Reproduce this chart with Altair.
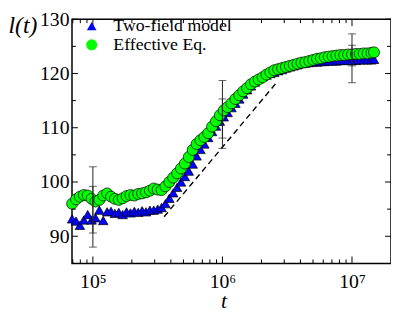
import altair as alt
import pandas as pd

# ---- data ----
log_t = [4.84, 4.87, 4.90, 4.93, 4.96, 4.99, 5.02, 5.05, 5.08, 5.11,
         5.14, 5.17, 5.20, 5.23, 5.26, 5.29, 5.32, 5.35, 5.38, 5.41,
         5.44, 5.47, 5.50, 5.53, 5.56, 5.59, 5.62, 5.65, 5.68, 5.71,
         5.74, 5.77, 5.80, 5.83, 5.86, 5.89, 5.92, 5.95, 5.98, 6.01,
         6.04, 6.07, 6.10, 6.13, 6.16, 6.19, 6.22, 6.25, 6.28, 6.31,
         6.34, 6.37, 6.40, 6.43, 6.46, 6.49, 6.52, 6.55, 6.58, 6.61,
         6.64, 6.67, 6.70, 6.73, 6.76, 6.79, 6.82, 6.85, 6.88, 6.91,
         6.94, 6.97, 7.00, 7.03, 7.06, 7.09, 7.12, 7.15, 7.17]

two_field = [93.2, 92.8, 92.0, 93.0, 94.0, 93.0, 93.4, 94.8, 92.9, 94.5,
             94.6, 94.2, 94.4, 94.0, 94.5, 94.3, 94.6, 94.4, 94.7, 94.5,
             94.8, 94.8, 95.0, 95.3, 96.0, 97.0, 98.0, 99.0, 100.0, 101.0,
             102.0, 103.3, 104.8, 106.0, 107.0, 108.2, 109.3, 110.3, 111.2, 112.0,
             112.8, 113.7, 114.5, 115.3, 116.2, 117.0, 117.7, 118.4, 119.0, 119.4,
             119.7, 120.0, 120.2, 120.5, 120.7, 121.0, 121.2, 121.4, 121.6, 121.8,
             121.9, 122.0, 122.1, 122.1, 122.2, 122.2, 122.3, 122.3, 122.3, 122.4,
             122.4, 122.4, 122.4, 122.4, 122.5, 122.5, 122.5, 122.5, 122.6]

effective = [96.0, 96.8, 97.3, 97.6, 97.5, 96.9, 96.4, 96.7, 97.5, 97.9,
             97.3, 96.9, 96.7, 97.0, 97.4, 97.6, 97.5, 97.8, 97.9, 98.1,
             98.4, 98.8, 98.6, 98.5, 99.2, 100.0, 100.8, 101.6, 102.5, 103.4,
             104.6, 105.9, 107.0, 107.7, 108.3, 109.0, 110.2, 111.2, 112.3, 113.2,
             113.8, 114.5, 115.3, 116.0, 116.7, 117.3, 118.0, 118.5, 118.9, 119.3,
             119.8, 120.2, 120.6, 120.8, 121.0, 121.2, 121.4, 121.6, 121.8, 122.0,
             122.1, 122.3, 122.5, 122.7, 122.8, 123.0, 123.1, 123.2, 123.3, 123.4,
             123.4, 123.5, 123.5, 123.6, 123.6, 123.7, 123.7, 123.8, 123.9]

series_names = ["Two-field model", "Effective Eq."]

dash_log_t = [5.55, 6.41]
dash_l = [93.6, 118.1]

err_t = [1e5, 1e5, 1e6, 1e6, 1e7, 1e7]
err_lo = [90.6, 88.0, 108.1, 106.2, 121.4, 118.3]
err_hi = [102.8, 99.2, 118.7, 115.3, 127.3, 125.2]

x_major = [1e5, 1e6, 1e7]
x_minor = [7e4, 8e4, 9e4,
           2e5, 3e5, 4e5, 5e5, 6e5, 7e5, 8e5, 9e5,
           2e6, 3e6, 4e6, 5e6, 6e6, 7e6, 8e6, 9e6]
y_major = [90, 100, 110, 120, 130]
y_minor = [95, 105, 115, 125]

# ---- build tables ----
assert len(log_t) == len(two_field) == len(effective)
t_vals = [10 ** v for v in log_t]
pts = pd.DataFrame({
    "t": t_vals + t_vals,
    "l": two_field + effective,
    "series": [series_names[0]] * len(t_vals) + [series_names[1]] * len(t_vals),
})
dash_df = pd.DataFrame({"t": [10 ** v for v in dash_log_t], "l": dash_l})
err_df = pd.DataFrame({"t": err_t, "l": err_lo, "hi": err_hi})
cap_df = pd.DataFrame({"t": err_t + err_t, "l": err_lo + err_hi})

W, H = 324, 248
SERIF = "Liberation Serif, DejaVu Serif, Times New Roman, serif"

xscale = alt.Scale(type="log", domain=[6.9e4, 2.0e7], nice=False)
yscale = alt.Scale(domain=[85, 130], nice=False, zero=False)

sup = "['⁰','¹','²','³','⁴','⁵','⁶','⁷','⁸','⁹'][round(log(datum.value)/LN10)]"

common = dict(ticks=False, tickSize=0, domain=False, grid=False,
              labelFont=SERIF, labelFontSize=20, labelColor="black",
              titleFont=SERIF, titleFontStyle="italic", titleFontWeight="normal",
              titleColor="black", titleBaseline="middle")
x_axis = alt.Axis(values=x_major, labelExpr="'10' + " + sup, labelPadding=8,
                  title="t", titleFontSize=22, titleAlign="center",
                  titleX=154, titleY=38, **common)
y_axis = alt.Axis(values=y_major, labelPadding=3, title="l(t)", titleFontSize=24,
                  titleAngle=0, titleAlign="left", titleX=-65, titleY=6, **common)

leg = alt.Legend(orient="none", legendX=11, legendY=-2, title=None,
                 labelFont=SERIF, labelFontSize=18, labelColor="black",
                 labelOffset=13, rowPadding=1, symbolStrokeColor="black",
                 symbolStrokeWidth=0.8)

X = lambda ax=alt.Undefined: alt.X("t:Q", scale=xscale, axis=ax)
Y = lambda ax=alt.Undefined: alt.Y("l:Q", scale=yscale, axis=ax)

dash = alt.Chart(dash_df).mark_line(color="black", strokeDash=[6, 4], strokeWidth=1.4).encode(
    x=X(), y=Y(),
)

points = alt.Chart(pts).mark_point(filled=True, stroke="black", strokeWidth=0.7, opacity=1).encode(
    x=X(x_axis),
    y=Y(y_axis),
    fill=alt.Fill("series:N", scale=alt.Scale(domain=series_names, range=["#0000ff", "#00ff00"]), legend=leg),
    shape=alt.Shape("series:N", scale=alt.Scale(domain=series_names, range=["triangle-up", "circle"]), legend=leg),
    size=alt.Size("series:N", scale=alt.Scale(domain=series_names, range=[95, 125]), legend=leg),
)

bars = alt.Chart(err_df).mark_rule(color="#222222", strokeWidth=1).encode(
    x=X(), y=Y(), y2="hi:Q",
)
caps = alt.Chart(cap_df).mark_tick(color="#222222", orient="horizontal", size=8, thickness=1).encode(
    x=X(), y=Y(),
)

layers = [points, dash, bars, caps]

# inward tick marks on all four sides
for vals, ln in [(x_major, 7), (x_minor, 4)]:
    base = alt.Chart(pd.DataFrame({"t": vals})).mark_rule(color="black", strokeWidth=1)
    layers.append(base.encode(x=X(), y=alt.value(H), y2=alt.value(H - ln)))
    layers.append(base.encode(x=X(), y=alt.value(0), y2=alt.value(ln)))
for vals, ln in [(y_major, 6), (y_minor, 4)]:
    base = alt.Chart(pd.DataFrame({"l": vals})).mark_rule(color="black", strokeWidth=1)
    layers.append(base.encode(y=Y(), x=alt.value(0), x2=alt.value(ln)))
    layers.append(base.encode(y=Y(), x=alt.value(W), x2=alt.value(W - ln)))

chart = alt.layer(*layers).properties(
    width=W, height=H,
    autosize=alt.AutoSizeParams(type="none"),
    padding={"left": 65, "top": 9, "right": 0, "bottom": 48},
    background="white",
).configure(
    font=SERIF
).configure_view(
    stroke="black", strokeWidth=1.5, fill="white"
)

chart.save("out.html", embed_options={"renderer": "svg", "actions": False})
